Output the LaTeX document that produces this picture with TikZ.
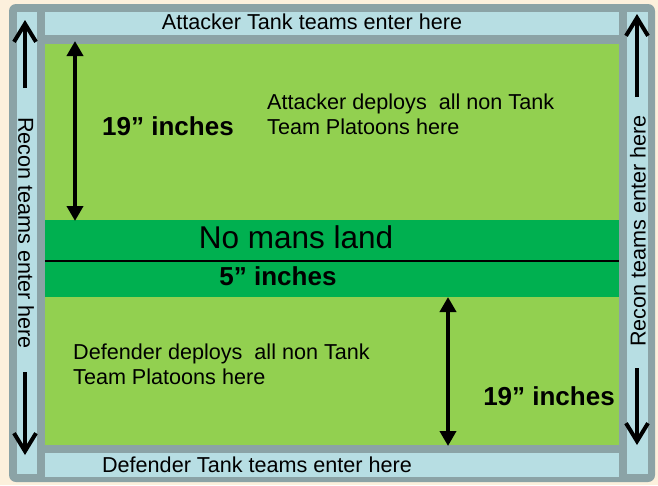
\documentclass[tikz,border=0pt]{standalone}
\usepackage{fontspec}
\setmainfont{Liberation Sans}
\usetikzlibrary{arrows.meta}

\definecolor{cream}{RGB}{252,240,220}
\definecolor{rim}{RGB}{139,163,166}
\definecolor{lane}{RGB}{183,222,227}
\definecolor{fieldgreen}{RGB}{146,208,80}
\definecolor{nomans}{RGB}{0,176,80}

\tikzset{
  txt/.style={font=\fontsize{21.6}{25}\selectfont, inner sep=0pt},
  bigbold/.style={font=\fontsize{26}{30}\selectfont\bfseries, inner sep=0pt},
  entryarrow/.style={line width=4pt, -{Straight Barb[length=18pt,width=22pt]}},
  deployarrow/.style={line width=4.5pt,
    {Triangle[length=15pt,width=16pt]}-{Triangle[length=15pt,width=16pt]}},
}

\begin{document}
\begin{tikzpicture}[x=1pt,y=-1pt]
	% Bakgrunn
	\fill[cream] (0,0) rectangle (658,485);
	\useasboundingbox (0,0) rectangle (658,485);

	% Ramme
	\fill[rim, rounded corners=7pt] (9,4) rectangle (655,482);

	% Innkjoringsfelt
	\fill[lane] (17,12) rectangle (37,474);
	\fill[lane] (627,12) rectangle (648,474);
	\fill[lane] (45,12) rectangle (619,35);
	\fill[lane] (45,453) rectangle (619,477);

	% Spillebrett og ingenmannsland
	\fill[fieldgreen] (45,44) rectangle (619,445);
	\fill[nomans] (45,220) rectangle (619,297);
	\coordinate (midW) at (45,261);
	\coordinate (midE) at (619,261);
	\draw[line width=1.5pt] (midW) -- (midE);

	% Tekst i feltene
	\node[txt] (attEntry) at (312,22) {Attacker Tank teams enter here};
	\node[txt] (defEntry) at (257,465) {Defender Tank teams enter here};
	\node[txt, rotate=-90] (reconW) at (26,233) {Recon teams enter here};
	\node[txt, rotate=90] (reconE) at (638,231) {Recon teams enter here};

	% Piler for rekognosering
	\coordinate (wUpTail) at (25,88);
	\coordinate (wUpTip) at (25,20);
	\draw[entryarrow] (wUpTail) -- (wUpTip);
	\coordinate (wDownTail) at (25,372);
	\coordinate (wDownTip) at (25,455);
	\draw[entryarrow] (wDownTail) -- (wDownTip);
	\coordinate (eUpTail) at (637,97);
	\coordinate (eUpTip) at (637,14);
	\draw[entryarrow] (eUpTail) -- (eUpTip);
	\coordinate (eDownTail) at (637,368);
	\coordinate (eDownTip) at (637,445);
	\draw[entryarrow] (eDownTail) -- (eDownTip);

	% Angriper
	\coordinate (attTop) at (75,41);
	\coordinate (attBot) at (75,221);
	\draw[deployarrow] (attTop) -- (attBot);
	\node[bigbold] (attDepth) at (168,126) {19” inches};
	\node[txt, anchor=west, align=left] (attZone) at (267,114.5)
		{Attacker deploys~ all non Tank\\Team Platoons here};

	% Ingenmannsland
	\node[font=\fontsize{31.5}{36}\selectfont, inner sep=0pt] (noMans) at (296,237) {No mans land};
	\node[bigbold] (bandDepth) at (278,276) {5” inches};

	% Forsvarer
	\node[txt, anchor=west, align=left] (defZone) at (73,364.5)
		{Defender deploys~ all non Tank\\Team Platoons here};
	\coordinate (defTop) at (448,297);
	\coordinate (defBot) at (448,446);
	\draw[deployarrow] (defTop) -- (defBot);
	\node[bigbold] (defDepth) at (549,396) {19” inches};
\end{tikzpicture}
\end{document}
